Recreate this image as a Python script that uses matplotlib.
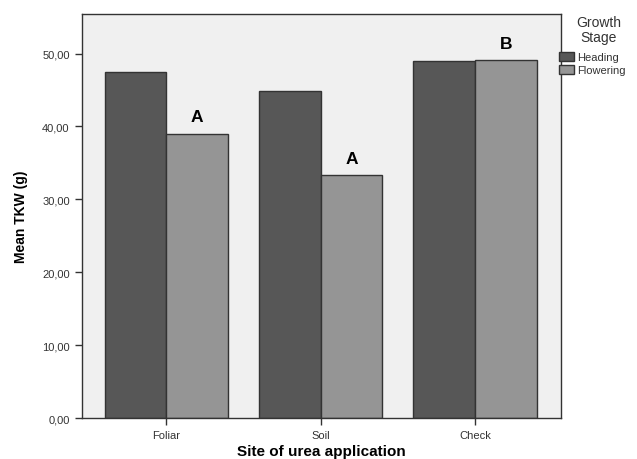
import matplotlib
matplotlib.use('Agg')
import matplotlib.pyplot as plt
import numpy as np
from matplotlib.patches import Patch

categories = ['Foliar', 'Soil', 'Check']
stages = ['Heading', 'Flowering']
heading = [47.5, 44.8, 49.0]
flowering = [39.0, 33.3, 49.1]
letters = ['A', 'A', 'B']
yticks = [0, 10, 20, 30, 40, 50]
ytick_labels = ['0,00', '10,00', '20,00', '30,00', '40,00', '50,00']

plt.rcParams['font.family'] = ['Liberation Sans', 'DejaVu Sans']

fig = plt.figure(figsize=(6.37, 4.6), dpi=100)
ax = fig.add_axes([0.128, 0.089, 0.752, 0.878])
ax.set_facecolor('#f0f0f0')

x = np.arange(len(categories))
w = 0.40
edge = '#333333'
ax.bar(x - w / 2, heading, width=w, color='#575757', edgecolor=edge, linewidth=1.0)
ax.bar(x + w / 2, flowering, width=w, color='#959595', edgecolor=edge, linewidth=1.0)

for xi, val, lab in zip(x, flowering, letters):
    ax.text(xi + w / 2, val + 1.3, lab, ha='center', va='bottom',
            fontsize=12.5, fontweight='bold', color='black')

ax.set_xlim(-0.55, 2.555)
ax.set_ylim(0, 55.4)
ax.set_yticks(yticks)
ax.set_yticklabels(ytick_labels, fontsize=8, color='#333333')
ax.set_xticks(x)
ax.set_xticklabels(categories, fontsize=8, color='#333333')
ax.tick_params(axis='both', direction='out', length=5, width=1, color='#333333')

for s in ax.spines.values():
    s.set_color('#333333')
    s.set_linewidth(1.0)

ax.set_ylabel('Mean TKW (g)', fontsize=10, fontweight='bold', labelpad=10)
ax.set_xlabel('Site of urea application', fontsize=11, fontweight='bold', labelpad=3)

fig.text(0.94, 0.965, 'Growth\nStage', ha='center', va='top', fontsize=10,
         color='#333333', linespacing=1.1)
handles = [Patch(facecolor='#575757', edgecolor=edge), Patch(facecolor='#959595', edgecolor=edge)]
leg = fig.legend(handles, stages, loc='upper left',
                 bbox_to_anchor=(0.878, 0.885), frameon=False, fontsize=8,
                 handlelength=1.3, handleheight=0.9,
                 handletextpad=0.3, borderaxespad=0, labelspacing=0.2,
                 borderpad=0.0)
for t in leg.get_texts():
    t.set_color('#333333')

fig.savefig('out.png', dpi=100)
plt.close()
